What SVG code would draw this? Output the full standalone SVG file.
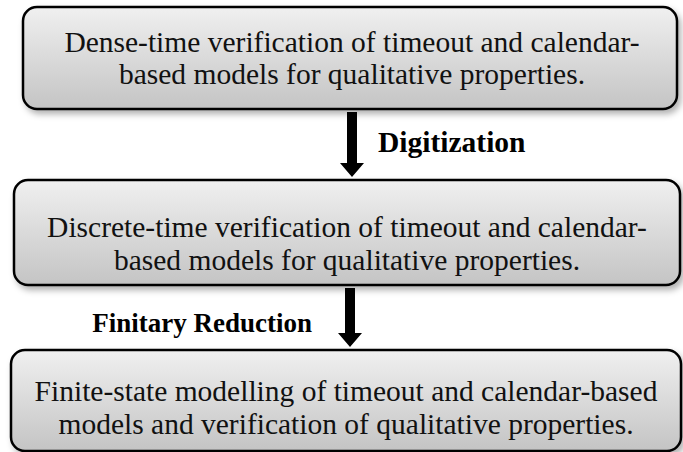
<svg xmlns="http://www.w3.org/2000/svg" width="683" height="452" viewBox="0 0 683 452">
<defs>
<linearGradient id="g" x1="0" y1="0" x2="0" y2="1">
<stop offset="0" stop-color="#f0f0f0"/>
<stop offset="1" stop-color="#c4c4c4"/>
</linearGradient>
<filter id="sh" x="-5%" y="-10%" width="115%" height="130%">
<feDropShadow dx="3" dy="4" stdDeviation="3" flood-color="#000" flood-opacity="0.3"/>
</filter>
</defs>
<style>
.box{fill:url(#g);stroke:#000;stroke-width:2.5;filter:url(#sh)}
.t{font-family:"Liberation Serif","Times New Roman",serif;font-size:29.5px;fill:#111;text-anchor:middle}
.lbl{font-family:"Liberation Serif","Times New Roman",serif;font-weight:bold;fill:#000}
.arr{fill:#000}
</style>
<rect width="683" height="452" fill="#fff"/>
<g id="connectors">
<path class="arr" d="M347 112 H357 V163 H364 L352 177 L340 163 H347 Z"/>
<path class="arr" d="M345 288 H355 V333 H362 L350 347 L338 333 H345 Z"/>
</g>
<g id="node1">
<rect class="box" x="23" y="7" width="654" height="102" rx="14"/>
<text class="t" x="352" y="52">Dense-time verification of timeout and calendar-</text>
<text class="t" x="352" y="84">based models for qualitative properties.</text>
</g>
<g id="label1">
<text class="lbl" x="378" y="152" font-size="29.5">Digitization</text>
</g>
<g id="node2">
<rect class="box" x="14" y="180" width="666" height="105" rx="14"/>
<text class="t" x="347" y="237" font-size="29">Discrete-time verification of timeout and calendar-</text>
<text class="t" x="347" y="270" font-size="29">based models for qualitative properties.</text>
</g>
<g id="label2">
<text class="lbl" x="312" y="332" text-anchor="end" font-size="27">Finitary Reduction</text>
</g>
<g id="node3">
<rect class="box" x="11" y="350" width="670" height="101" rx="14"/>
<text class="t" x="346" y="401">Finite-state modelling of timeout and calendar-based</text>
<text class="t" x="346" y="434">models and verification of qualitative properties.</text>
</g>
</svg>
